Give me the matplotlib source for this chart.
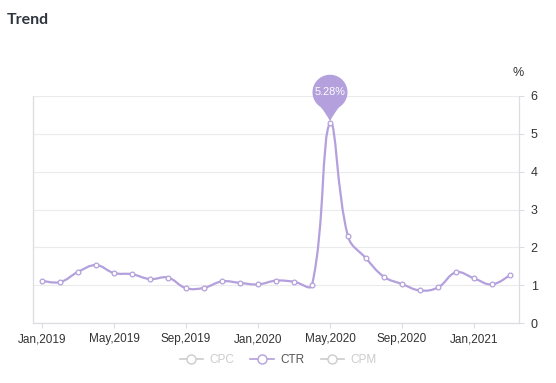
import numpy as np
import matplotlib.pyplot as plt
from matplotlib.path import Path
from matplotlib.patches import PathPatch
from matplotlib.lines import Line2D
import matplotlib.transforms as mtransforms

# ---------------------------------------------
# data
# ---------------------------------------------
months = ['Jan,2019', 'Feb,2019', 'Mar,2019', 'Apr,2019', 'May,2019', 'Jun,2019',
          'Jul,2019', 'Aug,2019', 'Sep,2019', 'Oct,2019', 'Nov,2019', 'Dec,2019',
          'Jan,2020', 'Feb,2020', 'Mar,2020', 'Apr,2020', 'May,2020', 'Jun,2020',
          'Jul,2020', 'Aug,2020', 'Sep,2020', 'Oct,2020', 'Nov,2020', 'Dec,2020',
          'Jan,2021', 'Feb,2021', 'Mar,2021']
ctr = [1.12, 1.08, 1.35, 1.53, 1.32, 1.29, 1.16, 1.20, 0.92, 0.93, 1.10, 1.06,
       1.02, 1.12, 1.09, 1.00, 5.28, 2.29, 1.71, 1.22, 1.03, 0.86, 0.94, 1.34,
       1.18, 1.02, 1.27]
y_ticks = [0, 1, 2, 3, 4, 5, 6]
legend_names = ['CPC', 'CTR', 'CPM']

LINE = '#b3a0dc'
GRID = '#ebebeb'
AXIS = '#dcdce2'
TEXT = '#333333'
OFF = '#cccccc'

plt.rcParams['font.family'] = ['Liberation Sans', 'DejaVu Sans']

fig = plt.figure(figsize=(5.56, 3.83), dpi=100)
ax = fig.add_axes([33 / 556, 1 - 323 / 383, 486 / 556, 227 / 383])

x = np.arange(len(months))
ax.set_xlim(-0.5, len(months) - 0.5)
ax.set_ylim(0, 6)

# smooth line (bezier through the points, control points in pixel space)
pts = ax.transData.transform(np.column_stack([x, ctr]))
smooth = 0.4
n = len(pts)
cps = []
for i in range(n):
    if i == 0 or i == n - 1:
        cps.append((pts[i], pts[i]))
        continue
    prev, cur, nxt = pts[i - 1], pts[i], pts[i + 1]
    v = nxt - prev
    d0 = np.hypot(*(cur - prev))
    d1 = np.hypot(*(nxt - cur))
    c0 = cur - v * smooth * d0 / (d0 + d1)
    c1 = cur + v * smooth * d1 / (d0 + d1)
    cps.append((c0, c1))
verts = [pts[0]]
codes = [Path.MOVETO]
for i in range(n - 1):
    verts += [cps[i][1], cps[i + 1][0], pts[i + 1]]
    codes += [Path.CURVE4] * 3
verts = ax.transData.inverted().transform(np.array(verts))
ax.add_patch(PathPatch(Path(verts, codes), fill=False, edgecolor=LINE,
                       linewidth=1.6, zorder=3, capstyle='round'))
ax.plot(x, ctr, linestyle='none', marker='o', markersize=3.4,
        markerfacecolor='white', markeredgecolor=LINE, markeredgewidth=0.9, zorder=4)

# pin on the max value
peak = int(np.argmax(ctr))
r = 17.5
cy = 31
ang = np.radians(np.linspace(-58, 238, 80))
arc = np.column_stack([r * np.cos(ang), cy + r * np.sin(ang)])
pin_verts = [arc[0]]
pin_codes = [Path.MOVETO]
for p in arc[1:]:
    pin_verts.append(p)
    pin_codes.append(Path.LINETO)
pin_verts += [(-4, 10), (0, 2), (0, 2), (4, 10), arc[0]]
pin_codes += [Path.CURVE3, Path.CURVE3, Path.LINETO, Path.CURVE3, Path.CURVE3]
pin_trans = mtransforms.Affine2D().scale(fig.dpi / 100) + \
    mtransforms.ScaledTranslation(x[peak], ctr[peak], ax.transData)
ax.add_patch(PathPatch(Path(pin_verts, pin_codes), facecolor=LINE, edgecolor='none',
                       transform=pin_trans, zorder=5, clip_on=False))
ax.annotate(f'{ctr[peak]:.2f}%', (x[peak], ctr[peak]), xytext=(0, cy * 0.72),
            textcoords='offset points', ha='center', va='center', color='white',
            fontsize=7.8, zorder=6, annotation_clip=False)

# axes styling
ax.yaxis.tick_right()
ax.set_yticks(y_ticks)
ax.set_xticks(x[::4])
ax.set_xticklabels(months[::4])
ax.tick_params(axis='x', length=3.5, color=AXIS, labelsize=8.5, labelcolor=TEXT, pad=4)
ax.tick_params(axis='y', length=3.5, color=AXIS, labelsize=9, labelcolor=TEXT, pad=5)
ax.grid(axis='y', color=GRID, linewidth=0.8)
ax.set_axisbelow(True)
ax.spines['top'].set_visible(False)
for s in ['left', 'right', 'bottom']:
    ax.spines[s].set_color(AXIS)
    ax.spines[s].set_linewidth(0.9)

fig.text(518 / 556, 1 - 73 / 383, '%', ha='center', va='center', fontsize=9, color=TEXT)
fig.text(7 / 556, 1 - 20 / 383, 'Trend', ha='left', va='center', fontsize=11.5,
         fontweight='bold', color='#2f3640', family=['Lato', 'DejaVu Sans'])

# legend
handles = []
for name in legend_names:
    c = LINE if name == 'CTR' else OFF
    handles.append(Line2D([], [], color=c, linewidth=1.2, marker='o', markersize=6.5,
                          markerfacecolor='white', markeredgecolor=c, markeredgewidth=1))
leg = fig.legend(handles, legend_names, loc='center', ncol=3, frameon=False,
                 bbox_to_anchor=(278 / 556, 1 - 360 / 383), fontsize=8.5,
                 handlelength=2.0, handletextpad=0.5, columnspacing=1.4)
for t, name in zip(leg.get_texts(), legend_names):
    t.set_color('#555555' if name == 'CTR' else OFF)

fig.savefig('out.png', dpi=100)
